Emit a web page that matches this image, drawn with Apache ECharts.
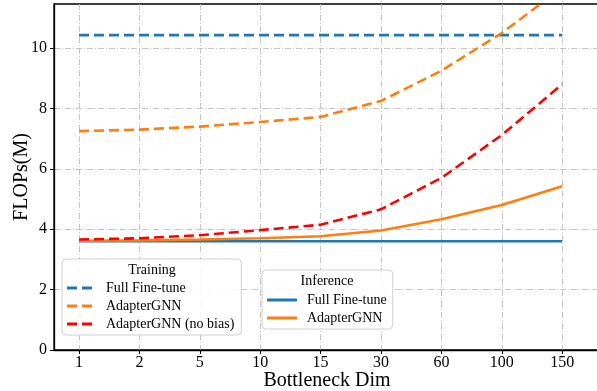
<!DOCTYPE html>
<html>
<head>
<meta charset="utf-8">
<script src="https://cdn.jsdelivr.net/npm/echarts@6/dist/echarts.min.js"></script>
<style>
  html, body { margin: 0; padding: 0; background: #fff; }
  #chart { width: 597px; height: 391px; }
</style>
</head>
<body>
<div id="chart"></div>
<script>
// bottleneck dims (x tick labels)
var dims = ['1', '2', '5', '10', '15', '30', '60', '100', '150'];

// training FLOPs(M)
var trainFull = [10.43, 10.43, 10.43, 10.43, 10.43, 10.43, 10.43, 10.43, 10.43];
var trainAdapter = [7.25, 7.3, 7.4, 7.55, 7.72, 8.25, 9.25, 10.5, 12.0];
var trainNoBias = [3.66, 3.7, 3.8, 3.97, 4.15, 4.66, 5.7, 7.12, 8.8];

// inference FLOPs(M)
var inferFull = [3.6, 3.6, 3.6, 3.6, 3.6, 3.6, 3.6, 3.6, 3.6];
var inferAdapter = [3.62, 3.63, 3.66, 3.7, 3.77, 3.96, 4.33, 4.8, 5.42];

var yTicks = [0, 2, 4, 6, 8, 10];

var FONT = '"Liberation Serif", "DejaVu Serif", serif';
var BLUE = '#1f77b4', ORANGE = '#ff7f0e', RED = '#ff0000';
var gridLine = { color: '#b8b8b8', width: 0.8, type: [6, 2, 1, 2] };
// legend icons: two dashes for training, solid bar for inference
var DASH_ICON = 'path://M0,0h10v3h-10z M15,0h10v3h-10z';
var SOLID_ICON = 'path://M0,0h30v3h-30z';

function pairs(arr) {
    return arr.map(function (v, i) { return [i, v]; });
}

function lineSeries(name, data, color, dashed) {
    return {
        name: name,
        type: 'line',
        data: pairs(data),
        symbol: 'none',
        clip: true,
        lineStyle: { color: color, width: 2.6, type: dashed ? [10, 5] : 'solid' },
        itemStyle: { color: color },
        z: dashed ? 3 : 2
    };
}

var idxs = dims.map(function (d, i) { return i; });

var chart = echarts.init(document.getElementById('chart'));
var option = {
    animation: false,
    backgroundColor: '#fff',
    grid: {
        left: 54, top: 4, right: -3, bottom: 41,
        outerBoundsMode: 'none',
        containLabel: false,
        show: true, borderColor: '#000', borderWidth: 1.3
    },
    xAxis: {
        type: 'value',
        min: -0.414,
        max: 8.626,
        name: 'Bottleneck Dim',
        nameLocation: 'middle',
        nameGap: 21,
        nameMoveOverlap: false,
        nameTextStyle: { fontFamily: FONT, fontSize: 20, color: '#000' },
        axisLine: { show: true, onZero: false, lineStyle: { color: '#000', width: 1.3 } },
        axisTick: { show: true, length: 4, customValues: idxs, lineStyle: { color: '#000' } },
        axisLabel: {
            customValues: idxs,
            fontFamily: FONT, fontSize: 16, color: '#000', margin: 5,
            formatter: function (v) { return dims[Math.round(v)]; }
        },
        splitLine: { show: true, lineStyle: gridLine }
    },
    yAxis: {
        type: 'value',
        min: 0,
        max: 11.46,
        interval: 2,
        name: 'FLOPs(M)',
        nameLocation: 'middle',
        nameGap: 22,
        nameMoveOverlap: false,
        nameTextStyle: { fontFamily: FONT, fontSize: 20, color: '#000' },
        axisLine: { show: true, onZero: false, lineStyle: { color: '#000', width: 1.3 } },
        axisTick: { show: true, length: 4, customValues: yTicks, lineStyle: { color: '#000' } },
        axisLabel: {
            customValues: yTicks,
            fontFamily: FONT, fontSize: 16, color: '#000', margin: 7
        },
        splitLine: { show: true, lineStyle: gridLine }
    },
    legend: [
        {
            orient: 'vertical',
            left: 62, top: 259,
            padding: [22, 7, 4, 5],
            itemGap: 4,
            itemWidth: 25, itemHeight: 3,
            icon: DASH_ICON,
            backgroundColor: 'rgba(255,255,255,0.85)',
            borderColor: '#d0d0d0', borderWidth: 1, borderRadius: 4,
            textStyle: { fontFamily: FONT, fontSize: 14, color: '#000', padding: [0, 0, 0, 9] },
            data: ['Full Fine-tune ', 'AdapterGNN ', 'AdapterGNN (no bias)']
        },
        {
            orient: 'vertical',
            left: 262, top: 270,
            padding: [23, 6, 4, 5],
            itemGap: 4,
            itemWidth: 30, itemHeight: 3,
            icon: SOLID_ICON,
            backgroundColor: 'rgba(255,255,255,0.85)',
            borderColor: '#d0d0d0', borderWidth: 1, borderRadius: 4,
            textStyle: { fontFamily: FONT, fontSize: 14, color: '#000', padding: [0, 0, 0, 5] },
            data: ['Full Fine-tune', 'AdapterGNN']
        }
    ],
    graphic: [
        {
            type: 'text', x: 152, y: 270, z: 100,
            style: { text: 'Training', font: '14px ' + FONT, fill: '#000', align: 'center', verticalAlign: 'middle' }
        },
        {
            type: 'text', x: 327, y: 281, z: 100,
            style: { text: 'Inference', font: '14px ' + FONT, fill: '#000', align: 'center', verticalAlign: 'middle' }
        }
    ],
    series: [
        lineSeries('Full Fine-tune ', trainFull, BLUE, true),
        lineSeries('AdapterGNN ', trainAdapter, ORANGE, true),
        lineSeries('AdapterGNN (no bias)', trainNoBias, RED, true),
        lineSeries('Full Fine-tune', inferFull, BLUE, false),
        lineSeries('AdapterGNN', inferAdapter, ORANGE, false)
    ]
};
chart.setOption(option);
</script>
</body>
</html>
